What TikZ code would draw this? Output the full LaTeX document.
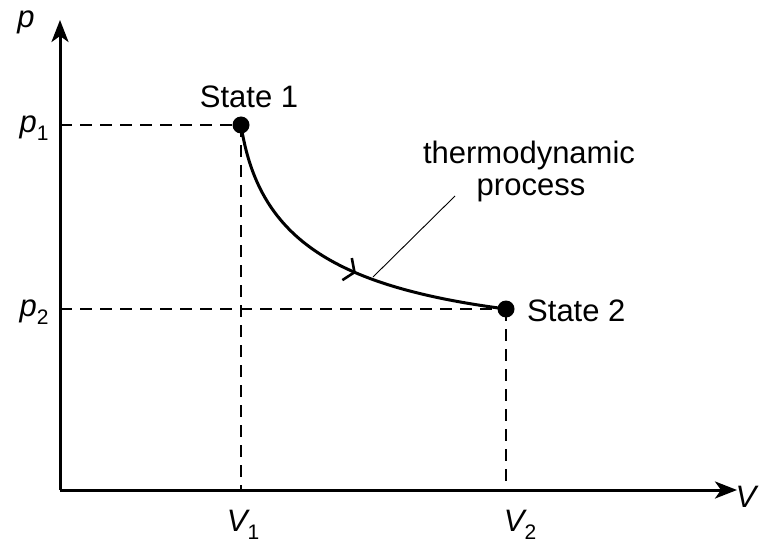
\documentclass[tikz,border=0pt]{standalone}
\usepackage{fontspec}
\setmainfont{Liberation Sans}
\usetikzlibrary{arrows.meta,decorations.markings}
\tikzset{
  axis/.style={line width=3pt,-{Stealth[length=22pt,width=17pt,inset=6pt]}},
  guide/.style={line width=2.4pt,dash pattern=on 12pt off 8pt},
  statedot/.style={circle,fill=black,inner sep=0pt,minimum size=17pt},
  lbl/.style={font=\fontsize{31}{37}\selectfont,inner sep=0pt},
  proc/.style={line width=3pt,postaction={decorate},decoration={markings,mark=at position 0.56 with {\arrow{Straight Barb[length=8pt,width=24pt,line width=2.6pt]}}}},
  leader/.style={line width=0.9pt}
}
\newcommand{\subone}[1]{\raisebox{-0.25em}{\fontsize{21}{21}\selectfont #1}}
\begin{document}
\begin{tikzpicture}[x=1pt,y=-1pt]
\useasboundingbox (0,0) rectangle (759,545);
\coordinate (O) at (60,490);
\coordinate (ytop) at (60,20);
\coordinate (xend) at (737,490);
\coordinate (P1) at (60,125);
\coordinate (P2) at (60,309);
\coordinate (V1) at (241,490);
\coordinate (V2) at (506,490);
\node[statedot] (s1) at (241,125) {};
\node[statedot] (s2) at (506,309) {};
% guides
\draw[guide] (P1) -- (s1.center);
\draw[guide] (s1.center) -- (V1);
\draw[guide] (P2) -- (s2.center);
\draw[guide] (s2.center) -- (V2);
% axes
\draw[axis] (O) -- (ytop);
\draw[axis] (O) -- (xend);
% process curve
\draw[proc] (s1.center) .. controls (258,236) and (330,286) .. (s2.center);
% leader
\coordinate (lead0) at (373,277);
\coordinate (lead1) at (455,196);
\draw[leader] (lead0) -- (lead1);
% labels
\node[lbl] (lp) at (26,22) {\itshape p};
\node[lbl] (lp1) at (34,128) {{\itshape p}\subone{1}};
\node[lbl] (lp2) at (34,312) {{\itshape p}\subone{2}};
\node[lbl] (lV) at (746,497) {\itshape V};
\node[lbl] (lV1) at (243,525) {{\itshape V}\subone{1}};
\node[lbl] (lV2) at (520,525) {{\itshape V}\subone{2}};
\node[lbl] (t1) at (249,97) {State 1};
\node[lbl,anchor=west] (t2) at (527,311) {State 2};
\node[lbl] (th) at (529,155) {thermodynamic};
\node[lbl] (pr) at (531,190) {process};
\end{tikzpicture}
\end{document}
